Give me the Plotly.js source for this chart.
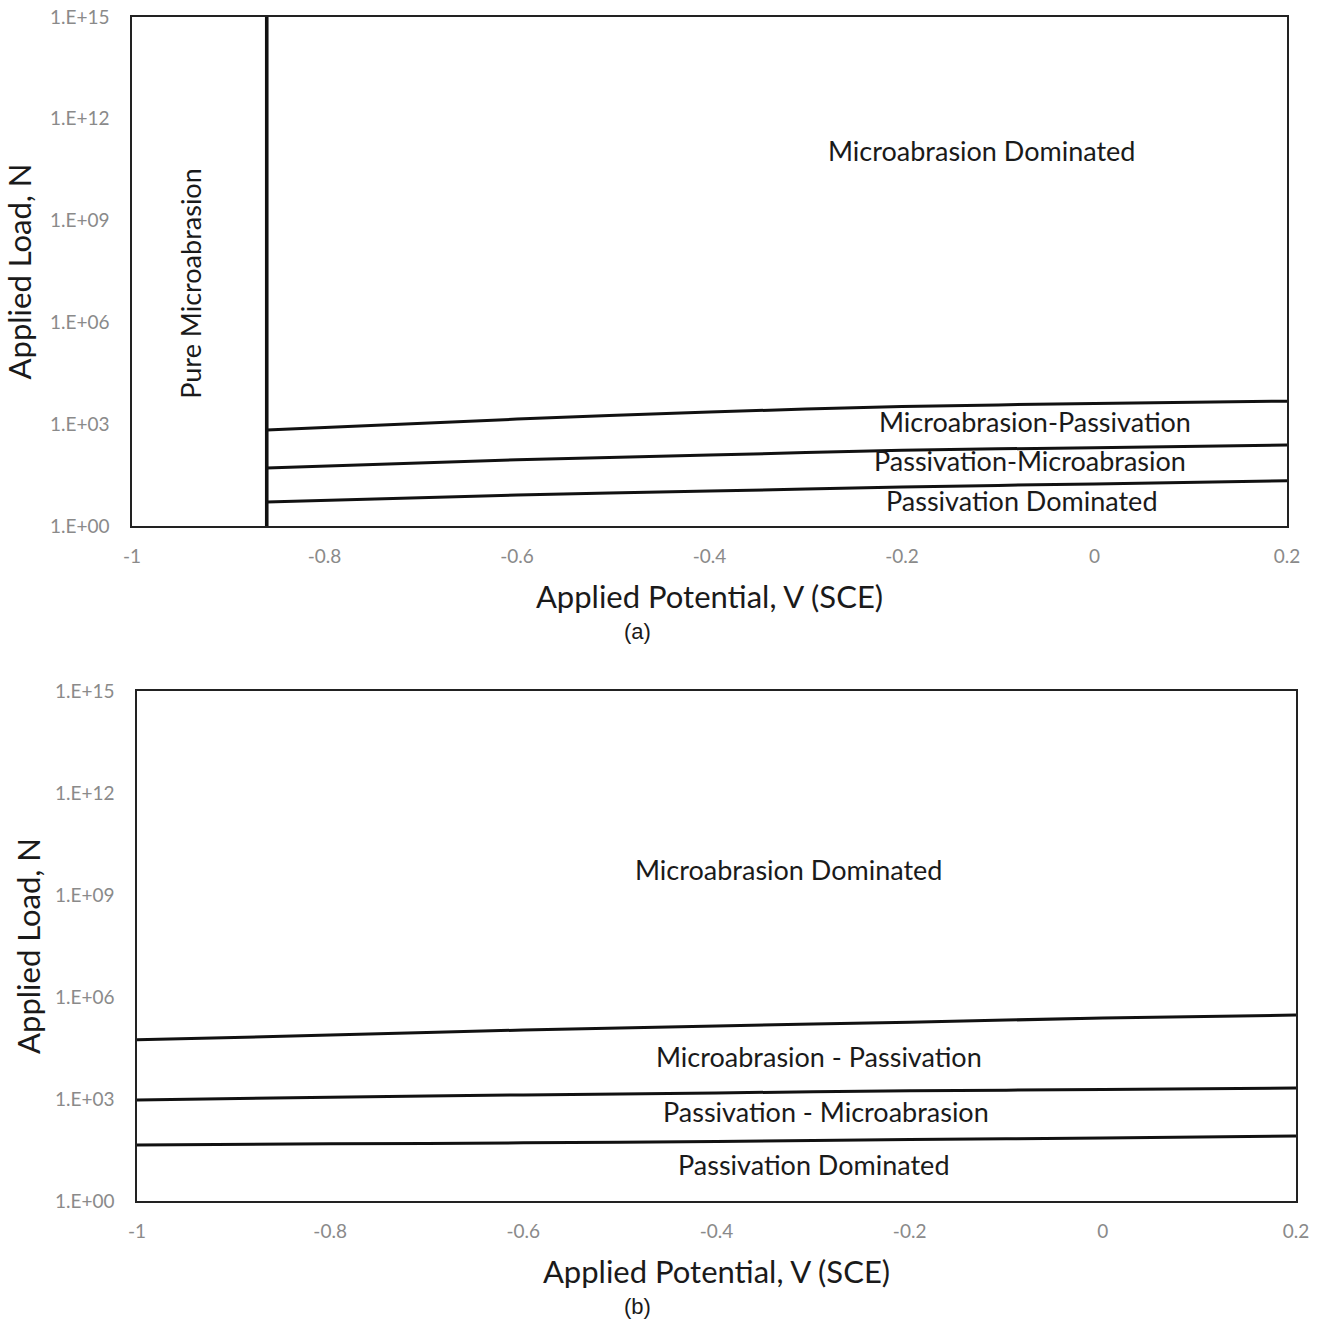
<!DOCTYPE html>
<html>
<head>
<meta charset="utf-8">
<script src="https://cdn.plot.ly/plotly-3.0.1.min.js"></script>
<style>html,body{margin:0;padding:0;background:#fff;}#chart{width:1320px;height:1319px;}</style>
</head>
<body>
<div id="chart"></div>
<script>
// ---- Data ----
// Panel (a)
const potentialA = [-0.86, -0.6, -0.4, -0.2, 0, 0.2];
const boundaryA_MD_MP = [676, 1413, 2291, 3311, 4074, 4786];     // Microabrasion Dominated / Microabrasion-Passivation
const boundaryA_MP_PM = [51.3, 89.1, 123, 170, 204, 245];         // Microabrasion-Passivation / Passivation-Microabrasion
const boundaryA_PM_PD = [5.13, 8.13, 10.7, 14.1, 17.4, 21.4];     // Passivation-Microabrasion / Passivation Dominated
const pureLimitX = [-0.86, -0.86];
const pureLimitY = [1, 1e15];
// Panel (b)
const potentialB = [-1, -0.8, -0.6, -0.4, -0.2, 0, 0.2];
const boundaryB_MD_MP = [55000, 75900, 107000, 141000, 182000, 240000, 295000];
const boundaryB_MP_PM = [933, 1122, 1318, 1514, 1738, 1905, 2089];
const boundaryB_PM_PD = [44.7, 47.9, 51.3, 56.2, 64.6, 70.8, 81.3];
// Ticks
const xTickVals = [-1, -0.8, -0.6, -0.4, -0.2, 0, 0.2];
const xTickText = ['-1', '-0.8', '-0.6', '-0.4', '-0.2', '0', '0.2'];
const yTickVals = [1, 1e3, 1e6, 1e9, 1e12, 1e15];
const yTickText = ['1.E+00', '1.E+03', '1.E+06', '1.E+09', '1.E+12', '1.E+15'];
// Region labels
const regionsA = [
  {text: 'Microabrasion Dominated', x: -0.117, y: 11.08},
  {text: 'Microabrasion-Passivation', x: -0.062, y: 3.09},
  {text: 'Passivation-Microabrasion', x: -0.067, y: 1.92},
  {text: 'Passivation Dominated', x: -0.075, y: 0.74}
];
const pureLabel = {text: 'Pure Microabrasion', x: -0.94, y: 7.16};
const regionsB = [
  {text: 'Microabrasion Dominated', x: -0.325, y: 9.74},
  {text: 'Microabrasion - Passivation', x: -0.294, y: 4.26},
  {text: 'Passivation - Microabrasion', x: -0.287, y: 2.62},
  {text: 'Passivation Dominated', x: -0.299, y: 1.06}
];

const W = 1320, H = 1319;
const FONT = 'Lato, "Open Sans", sans-serif';
const lineStyle = {color: '#111111', width: 3};

function tr(x, y, xa, ya, w) {
  return {x: x, y: y, xaxis: xa, yaxis: ya, mode: 'lines', type: 'scatter',
          line: {color: lineStyle.color, width: w || lineStyle.width, shape: 'spline', smoothing: 0.8},
          hoverinfo: 'skip', showlegend: false};
}

const data = [
  tr(pureLimitX, pureLimitY, 'x', 'y', 3.6),
  tr(potentialA, boundaryA_MD_MP, 'x', 'y'),
  tr(potentialA, boundaryA_MP_PM, 'x', 'y'),
  tr(potentialA, boundaryA_PM_PD, 'x', 'y'),
  tr(potentialB, boundaryB_MD_MP, 'x2', 'y2'),
  tr(potentialB, boundaryB_MP_PM, 'x2', 'y2'),
  tr(potentialB, boundaryB_PM_PD, 'x2', 'y2')
];

function xax(domain, anchor) {
  return {domain: domain, anchor: anchor, range: [-1, 0.2], tickvals: xTickVals, ticktext: xTickText,
    showgrid: false, zeroline: false, showline: true, mirror: true, linecolor: '#222', linewidth: 1.6,
    ticks: '', ticklabelstandoff: 13, tickfont: {family: FONT, size: 19, color: '#8a8a8a'},
    title: {text: 'Applied Potential, V (SCE)', font: {family: FONT, size: 31, color: '#1a1a1a'}, standoff: 20}};
}
function yax(domain, anchor, standoff) {
  return {domain: domain, anchor: anchor, type: 'log', range: [0, 15], tickvals: yTickVals, ticktext: yTickText,
    showgrid: false, zeroline: false, showline: true, mirror: true, linecolor: '#222', linewidth: 1.6,
    ticks: '', ticklabelstandoff: 17, tickfont: {family: FONT, size: 19, color: '#8a8a8a'},
    title: {text: 'Applied Load, N', font: {family: FONT, size: 31, color: '#1a1a1a'}, standoff: standoff}};
}

const annotations = [];
function addRegions(list, xref, yref) {
  list.forEach(r => annotations.push({text: r.text, x: r.x, y: r.y, xref: xref, yref: yref,
    showarrow: false, xanchor: 'center', yanchor: 'middle',
    font: {family: FONT, size: 27, color: '#1a1a1a'}}));
}
addRegions(regionsA, 'x', 'y');
addRegions(regionsB, 'x2', 'y2');
annotations.push({text: pureLabel.text, x: pureLabel.x, y: pureLabel.y, xref: 'x', yref: 'y', textangle: -90,
  showarrow: false, xanchor: 'center', yanchor: 'middle', font: {family: FONT, size: 27, color: '#1a1a1a'}});
annotations.push({text: '(a)', x: 637 / W, y: 1 - 632 / H, xref: 'paper', yref: 'paper', showarrow: false,
  xanchor: 'center', yanchor: 'middle', font: {family: 'Liberation Sans, Arial, sans-serif', size: 22, color: '#1a1a1a'}});
annotations.push({text: '(b)', x: 637 / W, y: 1 - 1306 / H, xref: 'paper', yref: 'paper', showarrow: false,
  xanchor: 'center', yanchor: 'middle', font: {family: 'Liberation Sans, Arial, sans-serif', size: 22, color: '#1a1a1a'}});

const layout = {
  width: W, height: H,
  margin: {l: 0, r: 0, t: 0, b: 0},
  paper_bgcolor: '#fff', plot_bgcolor: '#fff',
  showlegend: false,
  xaxis: xax([132 / W, 1287 / W], 'y'),
  yaxis: yax([1 - 526 / H, 1 - 17 / H], 'x', 9),
  xaxis2: xax([137 / W, 1296 / W], 'y2'),
  yaxis2: yax([1 - 1201 / H, 1 - 691 / H], 'x2', 5),
  annotations: annotations
};

Plotly.newPlot('chart', data, layout, {displayModeBar: false, staticPlot: true});
</script>
</body>
</html>
